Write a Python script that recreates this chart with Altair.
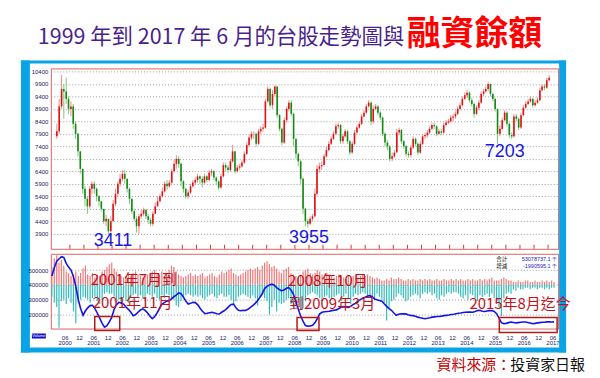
import altair as alt
import pandas as pd

# ---------------- data ----------------
# monthly TAIEX candles, Dec 1999 .. Jun 2017 (values in the chart's own scale)
first_open = 7800
close = [8000,
         9000, 9700, 9600, 9300, 8900, 9000, 8300, 7900, 7200, 6500, 5700, 5300,
         5000, 5700, 5900, 5700, 5400, 5200, 4900, 4400, 4500, 4000, 4400, 5100,
         5500, 5900, 6100, 6300, 6100, 5700, 5300, 4800, 4500, 4200, 4600, 4700,
         4850, 4600, 4450, 4300, 4700, 5000, 5200, 5400, 5600, 5900, 5800, 5950,
         6400, 6700, 6900, 6700, 6000, 5700, 5400, 5550, 5800, 5950, 6050, 6200,
         6100, 5950, 6200, 6050, 6350, 6400, 6150, 6000, 5750, 6200, 6650, 6550,
         6450, 6800, 7200, 6400, 6550, 6600, 6750, 7100, 7450, 7750, 7900, 7900,
         7500, 8000, 8100, 8150, 9200, 9700, 9050, 9500, 9800, 8650, 8100, 7550,
         8450, 8900, 9150, 8700, 7700, 7100, 6800, 6100, 4900, 4400, 4300, 4500,
         4600, 5500, 6500, 6600, 6650, 7000, 7250, 7500, 7700, 7900, 8200, 8250,
         7600, 7800, 8000, 7600, 7150, 7500, 7950, 8150, 8300, 8600, 8750, 9000,
         9150, 8400, 8900, 9000, 8750, 8550, 7900, 7550, 7400, 6900, 7000, 7150,
         7950, 8050, 7600, 7400, 7100, 7050, 7350, 7700, 7500, 7150, 7500, 7800,
         7850, 7950, 8100, 8250, 8200, 7900, 8000, 7950, 8250, 8350, 8400, 8550,
         8600, 8700, 8900, 9050, 9300, 9450, 9550, 9250, 9100, 8700, 8950, 9150,
         9500, 9600, 9700, 9900, 9500, 9300, 8900, 7900, 8100, 8450, 8750, 8300,
         7850, 7800, 8600, 8500, 8150, 8650, 8950, 9100, 9200, 9300, 9050, 9150,
         9250, 9650, 9800, 9750, 10050, 10150]
high = [8300,
        9300, 10250, 9900, 10150, 9400, 9200, 9100, 8400, 7950, 7200, 6500, 5800,
        5400, 5800, 6000, 6000, 5750, 5450, 5200, 4900, 4650, 4500, 4600, 5250,
        5700, 6000, 6300, 6450, 6450, 6100, 5750, 5300, 4900, 4600, 4700, 4850,
        4950, 4900, 4700, 4550, 4800, 5150, 5400, 5500, 5750, 6000, 6050, 6050,
        6500, 6850, 7050, 7000, 6750, 6050, 5750, 5650, 5900, 6050, 6150, 6300,
        6250, 6200, 6300, 6250, 6450, 6500, 6450, 6200, 6050, 6300, 6750, 6750,
        6650, 6900, 7450, 7200, 6650, 6700, 6850, 7200, 7550, 7850, 8000, 8000,
        7950, 8100, 8200, 8300, 9300, 9800, 9750, 9650, 9850, 9800, 8700, 8150,
        8550, 9000, 9250, 9250, 8750, 7700, 7150, 6850, 6150, 4950, 4500, 4600,
        4700, 5700, 6650, 6750, 6800, 7100, 7400, 7600, 7800, 8000, 8300, 8350,
        8300, 7900, 8100, 8050, 7650, 7600, 8050, 8250, 8400, 8700, 8850, 9100,
        9250, 9200, 9050, 9100, 9050, 8800, 8600, 7950, 7650, 7450, 7150, 7250,
        8100, 8150, 8100, 7650, 7450, 7200, 7450, 7800, 7750, 7550, 7600, 7900,
        7950, 8050, 8200, 8350, 8350, 8250, 8100, 8100, 8350, 8450, 8500, 8650,
        8700, 8800, 9000, 9150, 9400, 9550, 9650, 9600, 9350, 9150, 9050, 9250,
        9600, 9700, 9800, 9990, 9900, 9550, 9350, 8900, 8250, 8550, 8850, 8800,
        8350, 7950, 8700, 8700, 8550, 8750, 9050, 9200, 9300, 9400, 9350, 9250,
        9350, 9750, 9900, 9900, 10150, 10250]
low = [7700,
       7900, 8900, 8500, 9100, 8700, 8600, 8100, 7700, 7000, 6300, 5500, 5000,
       4700, 4900, 5500, 5500, 5200, 5000, 4800, 4300, 4200, 3900, 3950, 4400,
       5000, 5400, 5800, 6000, 5900, 5550, 5100, 4700, 4400, 3950, 3900, 4500,
       4600, 4500, 4300, 4200, 4200, 4700, 5000, 5150, 5350, 5550, 5650, 5750,
       5900, 6350, 6500, 6550, 5800, 5550, 5300, 5300, 5500, 5750, 5850, 5950,
       5900, 5750, 5900, 5950, 6000, 6200, 6050, 5850, 5650, 5700, 6150, 6400,
       6350, 6400, 6750, 6300, 6350, 6450, 6550, 6700, 7050, 7400, 7650, 7700,
       7400, 7450, 7900, 8000, 8100, 9150, 8950, 8900, 9400, 8550, 8000, 7450,
       7500, 8350, 8800, 8600, 7400, 6900, 6600, 5900, 4700, 4200, 4150, 4250,
       4400, 4550, 5450, 6350, 6450, 6600, 6950, 7200, 7450, 7650, 7850, 8100,
       7500, 7500, 7750, 7500, 7050, 7100, 7450, 7900, 8100, 8250, 8550, 8700,
       8950, 8250, 8300, 8850, 8650, 8450, 7800, 7400, 7250, 6800, 6800, 6950,
       7350, 7850, 7500, 7300, 7000, 6950, 6950, 7300, 7400, 7050, 7100, 7450,
       7700, 7750, 7900, 8050, 8100, 7800, 7850, 7850, 7900, 8200, 8300, 8350,
       8400, 8500, 8650, 8850, 9000, 9250, 9350, 9150, 9000, 8550, 8650, 8850,
       9100, 9400, 9550, 9600, 9400, 9200, 8800, 7500, 7800, 8050, 8400, 8200,
       7750, 7700, 7750, 8400, 8050, 8100, 8600, 8900, 9050, 9150, 8950, 9000,
       9100, 9200, 9600, 9650, 9700, 10000]

# margin balance (融資餘額), monthly
margin = [460000,
          515000, 560000, 575000, 590000, 585000, 545000, 520000, 500000, 455000, 390000, 300000, 240000,
          195000, 225000, 245000, 260000, 262000, 240000, 210000, 175000, 140000, 115000, 125000, 150000,
          180000, 235000, 265000, 282000, 278000, 270000, 250000, 235000, 215000, 192000, 200000, 215000,
          230000, 238000, 228000, 212000, 190000, 172000, 185000, 210000, 240000, 268000, 280000, 290000,
          293000, 305000, 320000, 330000, 345000, 340000, 318000, 290000, 270000, 275000, 282000, 280000,
          265000, 240000, 222000, 205000, 208000, 212000, 215000, 210000, 205000, 203000, 215000, 225000,
          238000, 255000, 268000, 270000, 245000, 228000, 225000, 228000, 227000, 235000, 248000, 260000,
          275000, 295000, 315000, 340000, 375000, 390000, 400000, 405000, 398000, 382000, 370000, 360000,
          365000, 375000, 382000, 365000, 338000, 290000, 238000, 190000, 155000, 125000, 121000, 122000,
          127000, 145000, 171000, 204000, 215000, 218000, 220000, 222000, 226000, 229000, 231000, 240000,
          250000, 253000, 250000, 248000, 255000, 268000, 275000, 290000, 300000, 310000, 317000, 325000,
          327000, 318000, 305000, 300000, 295000, 290000, 272000, 255000, 240000, 228000, 210000, 195000,
          202000, 205000, 204000, 204000, 198000, 193000, 192000, 188000, 182000, 178000, 175000, 171000,
          174000, 178000, 182000, 184000, 186000, 187000, 189000, 192000, 194000, 196000, 200000, 202000,
          205000, 208000, 210000, 213000, 215000, 217000, 216000, 215000, 220000, 226000, 228000, 222000,
          220000, 224000, 226000, 227000, 220000, 205000, 175000, 145000, 138000, 140000, 145000, 149000,
          146000, 143000, 145000, 147000, 149000, 149000, 146000, 142000, 138000, 140000, 143000, 145000,
          147000, 148000, 150000, 150000, 149000, 150000]

# change bars around the 400000 base line (thousands): increases (red) and decreases (cyan)
inc = [120,
       180, 200, 150, 170, 130, 90, 80, 60, 70, 90, 60, 80,
       110, 130, 70, 60, 80, 50, 70, 60, 90, 100, 120, 140,
       150, 110, 90, 70, 60, 50, 60, 70, 60, 80, 90, 70,
       60, 50, 60, 70, 80, 90, 100, 80, 70, 90, 60, 80,
       100, 130, 120, 90, 70, 60, 50, 60, 70, 80, 60, 70,
       60, 70, 80, 50, 60, 70, 80, 60, 50, 70, 90, 80,
       90, 100, 110, 80, 70, 60, 70, 80, 90, 100, 110, 100,
       110, 120, 100, 130, 150, 160, 140, 120, 130, 110, 90, 80,
       100, 110, 120, 80, 70, 60, 50, 60, 90, 100, 110, 80,
       70, 80, 100, 90, 70, 60, 80, 70, 60, 50, 60, 70,
       60, 50, 40, 60, 50, 60, 70, 50, 60, 70, 60, 70,
       60, 50, 40, 50, 40, 30, 30, 40, 30, 50, 40, 40,
       50, 40, 30, 30, 40, 30, 40, 30, 30, 40, 30, 40,
       30, 40, 30, 30, 40, 30, 30, 40, 30, 30, 40, 30,
       40, 30, 40, 30, 30, 40, 30, 40, 30, 30, 40, 30,
       40, 30, 40, 50, 30, 30, 30, 40, 50, 40, 30, 30,
       20, 20, 30, 20, 20, 30, 30, 20, 20, 30, 20, 20,
       30, 20, 30, 20, 30, 20]
dec = [80,
       120, 150, 290, 110, 100, 130, 90, 120, 180, 260, 120, 100,
       80, 90, 100, 120, 90, 80, 110, 130, 100, 60, 50, 60,
       60, 80, 120, 100, 130, 90, 110, 120, 80, 70, 60, 80,
       70, 90, 80, 60, 70, 80, 60, 90, 100, 70, 90, 60,
       70, 90, 100, 140, 150, 110, 80, 70, 60, 70, 80, 70,
       80, 70, 90, 100, 80, 70, 60, 80, 90, 70, 60, 80,
       80, 70, 100, 130, 110, 80, 70, 60, 70, 80, 90, 70,
       90, 140, 80, 70, 90, 110, 200, 150, 100, 180, 120, 130,
       120, 100, 90, 130, 150, 140, 120, 170, 160, 110, 70, 60,
       50, 60, 70, 90, 110, 80, 70, 90, 100, 80, 70, 60,
       110, 80, 60, 90, 130, 80, 60, 70, 60, 50, 60, 70,
       70, 130, 90, 60, 80, 100, 120, 240, 160, 110, 100, 80,
       60, 70, 90, 110, 100, 80, 70, 60, 70, 90, 60, 50,
       60, 50, 70, 60, 90, 100, 70, 80, 60, 50, 60, 50,
       50, 60, 80, 90, 70, 100, 60, 70, 90, 110, 70, 80,
       70, 60, 80, 60, 90, 130, 150, 210, 90, 60, 50, 60,
       30, 40, 20, 30, 30, 20, 20, 30, 20, 20, 30, 20,
       20, 30, 20, 30, 20, 20]

base_line = 400000
top_ticks = [3900, 4400, 4900, 5400, 5900, 6400, 6900, 7400, 7900, 8400, 8900, 9400, 9900, 10400]
low_ticks = [200000, 300000, 400000, 500000]

title_main = "1999 年到 2017 年 6 月的台股走勢圖與"
title_red = "融資餘額"
source_red = "資料來源："
source_black = "投資家日報"

low_labels = ["3411", "3955", "7203"]
low_dates = ["2001-12-13", "2008-12-01", "2015-11-16"]
low_vals = [3620, 3740, 7170]

note_texts = ["2001年7月到", "2001年11月", "2008年10月", "到2009年3月", "2015年8月迄今"]
note_dates = ["2001-04-22", "2001-05-19", "2008-03-09", "2008-03-21", "2014-07-04"]
note_vals = [435000, 280000, 428000, 273000, 273000]

box_start = ["2001-06-13", "2008-07-01", "2015-07-19"]
box_end = ["2002-04-27", "2009-04-06", "2017-07-24"]
box_top = [186000, 179000, 179000]
box_bottom = [92000, 92000, 78000]

legend_names = ["合計", "增減"]
legend_vals = ["53078737.1 千", "-1990595.1 千"]

# ---------------- tables ----------------
n = len(close)
assert len(high) == n and len(low) == n and len(margin) == n and len(inc) == n and len(dec) == n
dates = pd.date_range("1999-12-01", periods=n, freq="MS") + pd.Timedelta(days=14)
df = pd.DataFrame({"date": dates, "close": close, "high": high, "low": low,
                   "margin": margin, "inc": inc, "dec": dec})
df["open"] = [first_open] + close[:-1]
df["base"] = base_line
df["inc_top"] = base_line + df["inc"] * 1000
df["dec_bot"] = base_line - df["dec"] * 1000

tick_dates = pd.date_range("2000-06-01", "2017-06-01", freq="6MS")
ticks = pd.DataFrame({"date": tick_dates,
                      "m": [d.strftime("%m") for d in tick_dates],
                      "yr": [d.strftime("%Y") if d.month == 6 else "" for d in tick_dates]})

lows = pd.DataFrame({"date": pd.to_datetime(low_dates), "v": low_vals, "t": low_labels})
notes = pd.DataFrame({"date": pd.to_datetime(note_dates), "v": note_vals, "t": note_texts})
boxes = pd.DataFrame({"d1": pd.to_datetime(box_start), "d2": pd.to_datetime(box_end),
                      "v1": box_top, "v2": box_bottom})

W, H1, H2 = 509, 181, 75
FONT = "Liberation Sans"
CJK = "Noto Sans CJK TC"

xscale = alt.Scale(domain=[alt.DateTime(year=1999, month=12, date=2),
                           alt.DateTime(year=2017, month=8, date=6)])
yscale1 = alt.Scale(domain=[3300, 10520], nice=False, zero=False)
yscale2 = alt.Scale(domain=[105000, 610000], nice=False, zero=False)

X = alt.X("date:T", scale=xscale, axis=None)


def yaxis(vals):
    return alt.Axis(values=vals, format="d", labelOverlap=False, labelFlush=False,
                    grid=True, gridDash=[1, 2], gridColor="#8c8c8c", gridOpacity=0.85,
                    domain=False, ticks=False, labelFontSize=6, labelColor="#1c1c5c",
                    labelPadding=3, title=None, labelFont=FONT)


AX1 = yaxis(top_ticks)
AX2 = yaxis(low_ticks)

# ---------------- upper panel ----------------
base1 = alt.Chart(df).encode(x=X)
wick = base1.mark_rule(strokeWidth=1).encode(
    y=alt.Y("low:Q", scale=yscale1, axis=AX1),
    y2="high:Q",
    color=alt.condition("datum.close >= datum.open", alt.value("#f48a8a"), alt.value("#7cc87c")),
)
body = base1.mark_bar(size=1.6).encode(
    y=alt.Y("open:Q", scale=yscale1, axis=AX1),
    y2="close:Q",
    color=alt.condition("datum.close >= datum.open", alt.value("#e01010"), alt.value("#138a13")),
)
tick_marks = alt.Chart(ticks).mark_rule(color="#d83030", strokeWidth=1).encode(
    x=alt.X("date:T", scale=xscale, axis=None), y=alt.value(H1), y2=alt.value(H1 - 4))
low_text = alt.Chart(lows).mark_text(font=FONT, fontSize=18, color="#1717e0",
                                     align="center", baseline="middle").encode(
    x=alt.X("date:T", scale=xscale, axis=None), y=alt.Y("v:Q", scale=yscale1, axis=AX1),
    text="t:N")

# decorations (outer frame, titles, source)
frame = pd.DataFrame({"x": [-30, -30, 510, -30], "x2": [-21, 517, 517, 517],
                      "y": [-8, -8, -8, 280], "y2": [285, -5, 285, 285]})
frame_layers = [
    alt.Chart(frame.iloc[[i]]).mark_rect(color="#09a3e6").encode(
        x=alt.value(int(frame.x[i])), x2=alt.value(int(frame.x2[i])),
        y=alt.value(int(frame.y[i])), y2=alt.value(int(frame.y2[i])))
    for i in range(4)
]
canvas = alt.Chart(pd.DataFrame({"a": [0]})).mark_rect(opacity=0).encode(
    x=alt.value(-50), x2=alt.value(550), y=alt.value(-67), y2=alt.value(311))
t_main = alt.Chart(pd.DataFrame({"t": [title_main]})).mark_text(
    font=CJK, fontSize=21.5, color="#4a1f8c", align="left", baseline="middle").encode(
    x=alt.value(-13), y=alt.value(-30), text="t:N")
t_red = alt.Chart(pd.DataFrame({"t": [title_red]})).mark_text(
    font=CJK, fontSize=34, fontWeight="bold", color="#ff0000", align="left", baseline="middle").encode(
    x=alt.value(357), y=alt.value(-33), text="t:N")
s_red = alt.Chart(pd.DataFrame({"t": [source_red]})).mark_text(
    font=CJK, fontSize=15, color="#c00000", align="left", baseline="middle").encode(
    x=alt.value(387), y=alt.value(298), text="t:N")
s_black = alt.Chart(pd.DataFrame({"t": [source_black]})).mark_text(
    font=CJK, fontSize=15, color="#111111", align="left", baseline="middle").encode(
    x=alt.value(461), y=alt.value(298), text="t:N")

upper = alt.layer(canvas, *frame_layers, wick, body, tick_marks, low_text,
                  t_main, t_red, s_red, s_black).properties(width=W, height=H1)

# ---------------- lower panel ----------------
base2 = alt.Chart(df).encode(x=X)
up_bars = base2.mark_rule(strokeWidth=1.2, color="#f07878").encode(
    y=alt.Y("base:Q", scale=yscale2, axis=AX2),
    y2="inc_top:Q")
down_bars = base2.mark_rule(strokeWidth=1.2, color="#34bcbc").encode(
    y=alt.Y("dec_bot:Q", scale=yscale2, axis=AX2), y2="base:Q")
line = base2.mark_line(color="#1414e6", strokeWidth=1.6).encode(
    y=alt.Y("margin:Q", scale=yscale2, axis=AX2))
note_text = alt.Chart(notes).mark_text(font=CJK, fontSize=15, color="#c0121c",
                                       align="left", baseline="middle").encode(
    x=alt.X("date:T", scale=xscale, axis=None), y=alt.Y("v:Q", scale=yscale2, axis=AX2),
    text="t:N")
box = alt.Chart(boxes).mark_rect(fillOpacity=0, stroke="#b31b1b", strokeWidth=1.5).encode(
    x=alt.X("d1:T", scale=xscale, axis=None), x2="d2:T",
    y=alt.Y("v1:Q", scale=yscale2, axis=AX2), y2="v2:Q")
lab_m = alt.Chart(ticks).mark_text(font=FONT, fontSize=6, color="#1c1c5c", baseline="middle").encode(
    x=alt.X("date:T", scale=xscale, axis=None), y=alt.value(H2 + 9), text="m:N")
lab_y = alt.Chart(ticks).mark_text(font=FONT, fontSize=6, color="#1c1c5c", baseline="middle").encode(
    x=alt.X("date:T", scale=xscale, axis=None), y=alt.value(H2 + 15), text="yr:N")
leg_df = pd.DataFrame({"name": legend_names, "val": legend_vals, "y": [5, 12]})
leg_n = alt.Chart(leg_df).mark_text(font=CJK, fontSize=5.5, color="#111111", align="left",
                                    baseline="middle").encode(
    x=alt.value(447), y=alt.Y("y:Q", scale=None), text="name:N")
leg_v = alt.Chart(leg_df).mark_text(font=FONT, fontSize=5.5, color="#2020d0", align="right",
                                    baseline="middle").encode(
    x=alt.value(508), y=alt.Y("y:Q", scale=None), text="val:N")
vol_box = alt.Chart(pd.DataFrame({"t": ["Volume"]})).mark_rect(color="#1010c8").encode(
    x=alt.value(-19), x2=alt.value(-5), y=alt.value(80), y2=alt.value(85))
vol_txt = alt.Chart(pd.DataFrame({"t": ["Volume"]})).mark_text(
    font=FONT, fontSize=4, color="#ffffff", baseline="middle").encode(
    x=alt.value(-12), y=alt.value(82.5), text="t:N")

lower = alt.layer(up_bars, down_bars, line, box, note_text, lab_m, lab_y,
                  leg_n, leg_v, vol_box, vol_txt).properties(width=W, height=H2)

chart = alt.vconcat(upper, lower, spacing=5, bounds="flush").properties(
    padding=0, background="#ffffff"
).configure_view(stroke="#e06060", strokeWidth=1)

chart.save("out.html", embed_options={"renderer": "svg", "actions": False})
